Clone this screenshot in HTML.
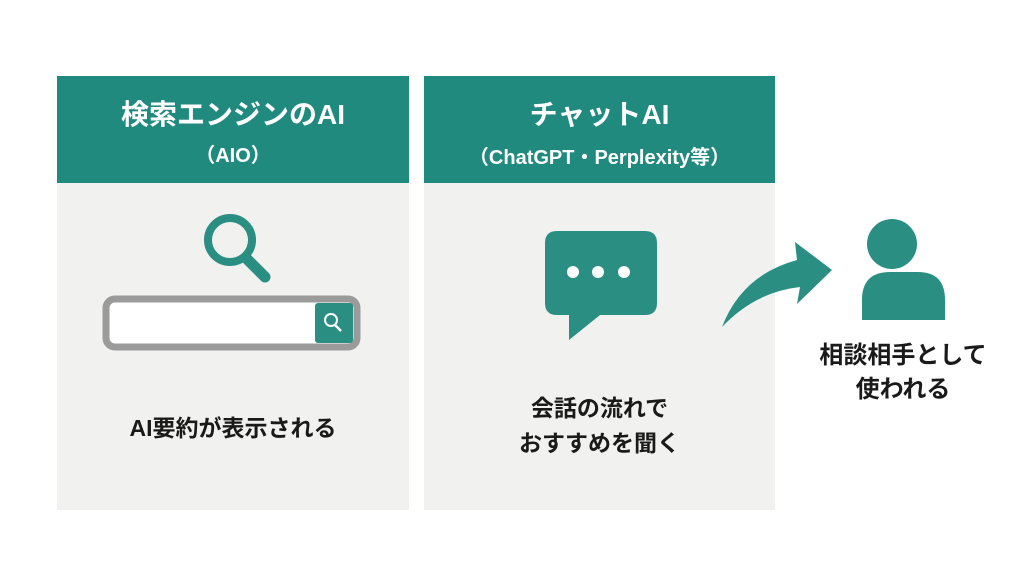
<!DOCTYPE html>
<html><head><meta charset="utf-8"><style>
body{margin:0;width:1024px;height:572px;background:#fff;position:relative;overflow:hidden;font-family:"Liberation Sans","Noto Sans CJK JP",sans-serif;font-weight:bold;}
.p{position:absolute;top:76px;height:434px;background:#f1f1f0;}
.h{position:absolute;left:0;right:0;top:0;height:107px;background:#218a7e;color:#fff;text-align:center;}
.t{position:absolute;width:100%;text-align:center;color:#1a1a1a;}
</style></head><body>
<div class="p" style="left:57px;width:352px">
 <div class="h"><div style="position:absolute;top:17px;width:100%;font-size:28px">検索エンジンのAI</div><div style="position:absolute;top:63px;width:100%;font-size:20px">（AIO）</div></div>
 <div class="t" style="top:333px;font-size:23px">AI要約が表示される</div>
</div>
<div class="p" style="left:424px;width:351px">
 <div class="h"><div style="position:absolute;top:17px;width:100%;font-size:28px">チャットAI</div><div style="position:absolute;top:65px;width:100%;font-size:20px">（ChatGPT・Perplexity等）</div></div>
 <div class="t" style="top:315px;font-size:23px;line-height:35px">会話の流れで<br>おすすめを聞く</div>
</div>
<div class="t" style="left:803px;width:200px;top:339px;font-size:24px;line-height:34px">相談相手として<br>使われる</div>
<svg width="1024" height="572" style="position:absolute;left:0;top:0">
 <g fill="#2a8f82" stroke="#2a8f82">
  <circle cx="230" cy="240" r="22" fill="none" stroke-width="8"/>
  <line x1="246" y1="258" x2="265" y2="277" stroke-width="11" stroke-linecap="round"/>
 </g>
 <rect x="106" y="299" width="251" height="48" rx="9" fill="#fff" stroke="#9b9b9b" stroke-width="7"/>
 <rect x="315" y="303" width="38" height="40" rx="3" fill="#2a8f82"/>
 <circle cx="331" cy="320" r="6" fill="none" stroke="#fff" stroke-width="2"/>
 <line x1="335" y1="325" x2="341" y2="331" stroke="#fff" stroke-width="2.5"/>
 <path d="M557 231 H645 Q657 231 657 243 V303 Q657 315 645 315 H600 L569 340 V315 H557 Q545 315 545 303 V243 Q545 231 557 231Z" fill="#2a8f82"/>
 <g fill="#fff"><circle cx="573" cy="272" r="6"/><circle cx="598" cy="272" r="6"/><circle cx="624" cy="272" r="6"/></g>
 <path d="M722 327 Q742 275 797 260 L795 242 L832 270 L797 304 L800 287 Q755 292 722 327Z" fill="#2a8f82"/>
 <circle cx="892" cy="244" r="25" fill="#2a8f82"/>
 <path d="M862 320 V300 Q862 272 890 272 H918 Q945 272 945 300 V320Z" fill="#2a8f82"/>
</svg>
</body></html>
